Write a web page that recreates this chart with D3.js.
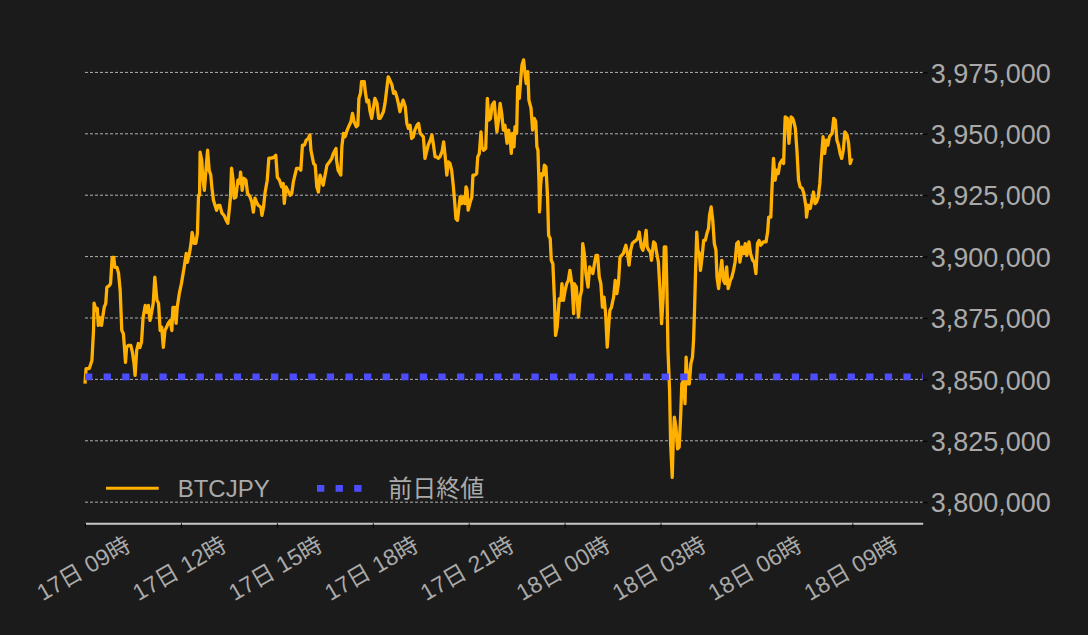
<!DOCTYPE html>
<html><head><meta charset="utf-8">
<script src="https://cdn.jsdelivr.net/npm/d3@7"></script>
<style>body{margin:0;background:#1b1b1b;}svg{display:block}</style>
</head><body><svg id="c" width="1088" height="635"></svg>
<script>
const baseTime = new Date(2021, 0, 17, 9, 0);
const domainEndMinutes = 1572;
const minutes = [0,2,8,13,16,17,21,23,25,28,31,36,39,41,46,48,51,54,56,60,63,66,69,72,74,76,78,81,86,89,92,94,97,100,103,106,109,113,116,119,122,125,128,131,135,138,141,144,147,150,153,156,160,163,165,168,171,173,177,181,186,190,192,196,199,201,205,208,211,213,215,216,219,221,224,227,230,233,236,238,241,244,247,250,253,257,261,265,268,271,273,275,278,280,283,287,290,292,295,298,302,305,310,313,316,319,322,325,330,332,335,338,342,345,350,355,358,361,
365,369,372,374,377,382,385,388,391,394,397,402,405,408,412,415,419,422,424,429,432,435,438,441,444,447,450,454,459,463,466,471,472,475,480,482,485,488,492,496,499,502,505,509,512,514,517,519,524,526,529,532,535,538,541,544,548,551,554,557,560,563,566,569,572,576,579,582,585,588,591,594,597,601,604,607,610,613,616,619,623,626,629,632,635,638,641,644,648,651,654,657,660,663,666,670,673,676,679,682,685,688,691,694,696,699,
704,707,710,713,715,717,719,723,726,728,732,735,737,740,743,745,748,752,755,758,761,764,768,770,773,776,779,782,785,788,792,795,798,800,802,805,807,810,812,815,818,820,823,826,828,831,833,837,840,843,846,848,850,852,853,855,857,860,862,865,868,870,873,875,878,881,883,886,890,893,895,898,901,904,907,910,914,917,918,922,926,929,932,934,937,940,944,947,950,953,956,959,962,965,968,971,974,977,980,983,985,988,992,995,998,1001,1004,1007,1010,1015,1018,1021,1024,1027,1030,1034,1037,1040,1044,1047,1050,1053,1055,1058,1061,
1063,1067,1070,1073,1076,1079,1082,1085,1087,1090,1092,1094,1097,1099,1102,1104,1106,1109,1112,1115,1118,1120,1123,1126,1128,1131,1134,1137,1140,1142,1144,1146,1148,1150,1153,1155,1158,1161,1164,1167,1170,1172,1175,1178,1181,1184,1186,1189,1192,1195,1198,1201,1204,1207,1211,1214,1217,1220,1223,1226,1229,1233,1236,1239,1242,1246,1249,1253,1256,1259,1262,1265,1268,1273,1278,1281,1283,1287,1289,1292,1295,1298,1301,1304,1308,1311,1313,1314,1318,1321,1325,1328,1331,1333,1336,1339,1342,1346,1349,1353,1354,1357,1361,1364,1367,1370,1373,1376,1379,1381,1385,1388,1391,1394,1397,1402,1405,1408,1411,1414,1417,1420,1423,1426,1430,1433,1436,1439];
const prices = [3848300,3854400,3854400,3857700,3869900,3881000,3878100,3878900,3872000,3875200,3872000,3879300,3881000,3887500,3888300,3889100,3899700,3899700,3895600,3895600,3893200,3886300,3869900,3868700,3863000,3856900,3863000,3863800,3863800,3861000,3856500,3851600,3861800,3864600,3863000,3865100,3875200,3880100,3877300,3880100,3874000,3877300,3881000,3891600,3882200,3881000,3869900,3871200,3863000,3869900,3871200,3872800,3874000,3869900,3879300,3879300,3872800,3879300,3885000,3889100,3895600,3901300,3897700,3901300,3905400,3909900,3905400,3905400,3909500,3925000,3925000,3942500,3939300,3932300,3927000,3935200,3943300,3935200,3933200,3928300,3923000,3920900,3918900,3920900,3920900,3917700,3916800,3914800,3913600,3919700,3924200,3936000,3931100,3923800,3924200,3931100,3929900,3934400,3927000,3931900,3931100,3925800,3924200,3922100,3918100,3923800,3922100,3920900,3920100,3916800,3920100,3926200,3931100,3940100,3940100,3940500,3941300,3932300,
3931100,3928400,3929800,3921700,3928400,3926300,3925000,3925700,3930400,3933200,3935900,3935900,3935200,3945400,3945400,3947400,3948100,3949500,3943300,3937900,3937200,3928400,3926300,3933200,3931100,3929100,3932500,3937200,3938600,3940000,3942000,3944000,3939300,3935200,3933200,3944700,3950200,3948800,3951500,3953500,3954900,3958300,3954900,3952900,3953500,3964400,3966500,3971200,3971200,3967100,3963000,3963700,3959000,3956300,3960400,3964400,3962400,3956300,3956300,3957600,3959000,3962400,3967800,3973200,3971900,3969900,3966500,3967100,3965100,3962400,3959000,3961700,3963700,3961000,3954200,3952200,3953500,3948100,3948800,3951500,3953500,3954200,3950200,3949500,3948800,3940000,3942700,3945400,3947400,3949500,3945400,3940600,3940600,3940000,3940600,3942700,3946700,3940600,3933200,3938600,3937900,3935200,3929100,3921600,3915500,3914800,
3924300,3921600,3924300,3921600,3928400,3927000,3918900,3922300,3924300,3933200,3933200,3933800,3940600,3942000,3950800,3944700,3943300,3944000,3964400,3955600,3956300,3961700,3963000,3957600,3950800,3955600,3962400,3958300,3951500,3953500,3946100,3951500,3947400,3942000,3950200,3944700,3952900,3950200,3969200,3964400,3973200,3978000,3980100,3973900,3970500,3975300,3963700,3960400,3951500,3956300,3954900,3944700,3943300,3929800,3918200,3929100,3933800,3933200,3937200,3936500,3924300,3908700,3907300,3898500,3897100,3882200,3867900,3871300,3882900,3882200,3889000,3882200,3886300,3889000,3890300,3894400,3888300,3876800,3889000,3887600,3875400,3883500,3886300,3905300,3901200,3893100,3887600,3895800,3894400,3893100,3897100,3900500,3900500,3891700,3889000,3879400,3883500,3876800,3863100,3872700,3878100,3879400,3883500,3890300,3884900,3889000,3899800,3900500,3901200,3904600,3901200,3896500,3902600,3905300,3906000,3906600,3907300,3910000,3903900,3902600,3906000,3910700,3903900,3902600,3901900,
3898500,3906000,3905300,3901200,3897800,3886300,3872700,3883500,3903900,3903900,3886300,3861800,3845500,3823700,3810100,3826400,3834600,3830500,3821700,3822400,3836000,3848200,3849600,3840100,3859100,3848200,3848200,3856400,3859100,3865900,3879400,3895800,3910000,3902600,3901200,3894400,3899800,3906600,3906600,3909400,3911400,3916800,3920200,3914800,3905300,3902600,3891700,3887000,3893100,3898500,3890300,3889000,3895800,3887000,3890300,3891700,3894400,3897800,3905300,3906000,3897800,3903900,3901200,3905300,3900500,3906000,3901200,3898500,3897800,3893100,3905300,3906600,3904600,3906000,3906000,3910000,3916100,3916100,3927000,3940000,3931100,3935200,3933800,3937900,3939300,3937900,3951500,3956900,3956300,3946100,3956900,3956300,3954200,3952200,3943300,3931100,3928400,3927700,3925700,3920200,3916100,3920900,3919600,3923000,3926300,3921600,3922300,3924300,3929800,3937200,3948800,3942000,3947400,3945400,3948800,3950200,3956300,3955600,3947400,3945400,3942000,3940000,3943300,3950800,3949500,3946100,3937900,3940000];
const prevClose = 3851000;
const yTicks = [3800000, 3825000, 3850000, 3875000, 3900000, 3925000, 3950000, 3975000];
const xTickHours = [0, 3, 6, 9, 12, 15, 18, 21, 24];
const seriesName = "BTCJPY";
const prevName = "前日終値";

const W = 1088, H = 635;
const m = {left: 85, right: 165.3, top: 40, bottom: 111.7};
const svg = d3.select("#c");
const FONT = "'Liberation Sans', 'Noto Sans CJK JP', sans-serif";
const TXT = "#aaaaaa";

const addMin = (k) => new Date(baseTime.getTime() + k * 60000);
const data = minutes.map((k, i) => ({t: addMin(k), v: prices[i]}));

const x = d3.scaleTime().domain([baseTime, addMin(domainEndMinutes)]).range([m.left, W - m.right]);
const y = d3.scaleLinear().domain([3791400, 3988200]).range([H - m.bottom, m.top]);

// gridlines
svg.append("g").selectAll("line").data(yTicks).join("line")
  .attr("x1", m.left).attr("x2", W - m.right)
  .attr("y1", d => y(d)).attr("y2", d => y(d))
  .attr("stroke", "#b0b0b0").attr("stroke-width", 1).attr("stroke-dasharray", "3,2");

// y axis (right)
const yAxis = svg.append("g").attr("transform", `translate(${W - m.right},0)`)
  .call(d3.axisRight(y).tickValues(yTicks).tickSize(5).tickPadding(3).tickFormat(d3.format(",")));
yAxis.select(".domain").remove();
yAxis.selectAll(".tick line").attr("stroke", "#000");
yAxis.selectAll("text").attr("fill", TXT).style("font-family", FONT).style("font-size", "27px")
  .attr("dy", "0.36em");

// x axis
const xAxis = svg.append("g").attr("transform", `translate(0,${H - m.bottom})`)
  .call(d3.axisBottom(x).tickValues(xTickHours.map(h => addMin(h * 60))).tickSize(5).tickSizeOuter(0)
    .tickFormat(d3.timeFormat("%d日 %H時")));
xAxis.select(".domain").attr("stroke", "#c8c8c8").attr("stroke-width", 2);
xAxis.selectAll(".tick line").attr("stroke", "#000");
xAxis.selectAll("text").attr("fill", TXT).style("font-family", FONT).style("font-size", "23px")
  .attr("text-anchor", "middle").attr("dy", null).attr("y", 0)
  .attr("transform", "translate(2,52) rotate(-30)");

// price line
svg.append("path").datum(data)
  .attr("fill", "none").attr("stroke", "#ffb000").attr("stroke-width", 3.3)
  .attr("stroke-linejoin", "round")
  .attr("d", d3.line().x(d => x(d.t)).y(d => y(d.v)));

// previous close
svg.append("line")
  .attr("x1", m.left).attr("x2", W - m.right)
  .attr("y1", y(prevClose)).attr("y2", y(prevClose))
  .attr("stroke", "#4d4dff").attr("stroke-width", 6.7).attr("stroke-dasharray", "7.3,11.3");

// legend
const lg = svg.append("g");
lg.append("line").attr("x1", 106).attr("x2", 158.7).attr("y1", 488.3).attr("y2", 488.3)
  .attr("stroke", "#ffb000").attr("stroke-width", 3);
lg.append("text").attr("x", 177.7).attr("y", 497.3).text(seriesName)
  .attr("fill", TXT).style("font-family", FONT).style("font-size", "24px");
lg.append("line").attr("x1", 317).attr("x2", 362).attr("y1", 488.3).attr("y2", 488.3)
  .attr("stroke", "#4d4dff").attr("stroke-width", 6.7).attr("stroke-dasharray", "7.3,11.3");
lg.append("text").attr("x", 388.3).attr("y", 497.3).text(prevName)
  .attr("fill", TXT).style("font-family", FONT).style("font-size", "24px");
</script></body></html>
